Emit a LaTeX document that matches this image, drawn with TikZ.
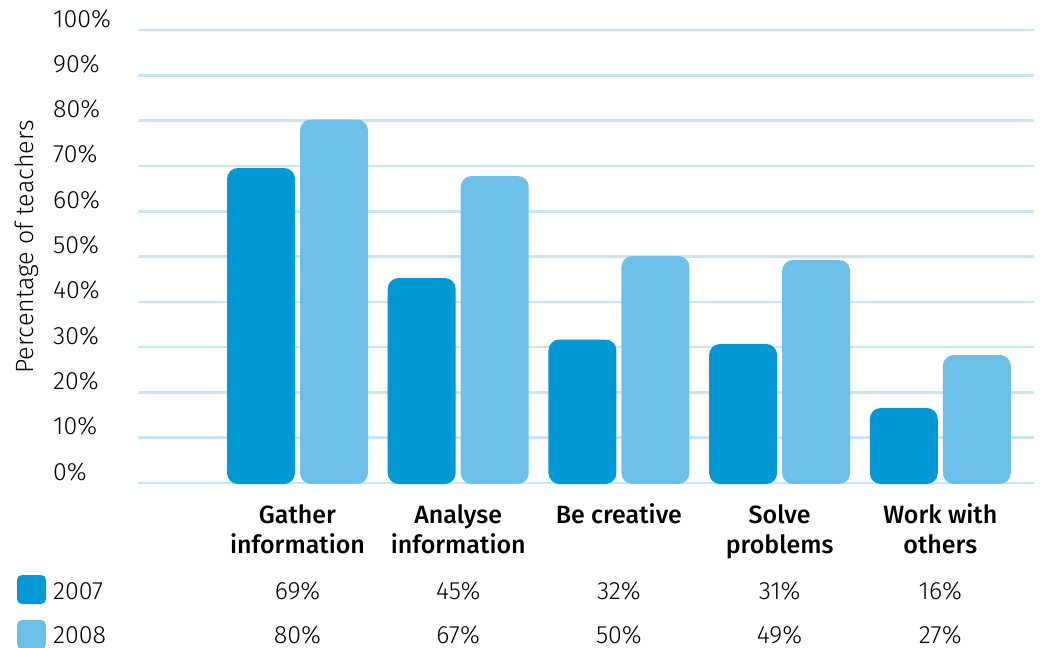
\documentclass[tikz,border=0pt]{standalone}
\usepackage{fontspec}
\setmainfont{Fira Sans}[UprightFont=* Light, BoldFont=* Medium]
\definecolor{darkbar}{HTML}{0099D6}
\definecolor{lightbar}{HTML}{6DC0E8}
\definecolor{gridc}{HTML}{C8E4F6}
\begin{document}
\begin{tikzpicture}[x=1pt,y=-1pt,
  gridline/.style={draw=gridc,line width=2.6pt},
  bardark/.style={fill=darkbar,rounded corners=11pt},
  barlight/.style={fill=lightbar,rounded corners=11pt},
  ylab/.style={anchor=base west,font=\fontsize{25}{25}\selectfont,inner sep=0pt},
  catlab/.style={anchor=base,align=center,font=\fontsize{25}{30}\selectfont\bfseries,inner sep=0pt},
  vallab/.style={anchor=base,font=\fontsize{25}{25}\selectfont,inner sep=0pt}]
\useasboundingbox (0,0) rectangle (1042,648);
% grid
\foreach \k in {0,...,10}{
  \draw[gridline] (138,{483-\k*45.3}) -- (1034,{483-\k*45.3});
  \pgfmathtruncatemacro{\pc}{\k*10}
  \node[ylab] (y\k) at (53,{480-\k*45.3}) {\pc\%};
}
\node[rotate=90,anchor=center,font=\fontsize{25}{25}\selectfont] (ytitle) at (27,247) {Percentage of teachers};
% bars
\foreach \i/\a/\b/\ta/\tb/\ly/\lab in {0/69/80/168/119.5/553/{Gather\\information},1/45/67/278/176/553/{Analyse\\information},2/32/50/339.5/256/523/{Be creative},3/31/49/344/260/553/{Solve\\problems},4/16/27/408/355/553/{Work with\\others}}{
  \pgfmathsetmacro{\xo}{227+\i*160.7}
  \fill[bardark] (\xo,484) rectangle ({\xo+68},\ta);
  \fill[barlight] ({\xo+73},484) rectangle ({\xo+141},\tb);
  \node[catlab] (c\i) at ({\xo+70.5},\ly) {\lab};
  \node[vallab] (va\i) at ({\xo+70.5},599) {\a\%};
  \node[vallab] (vb\i) at ({\xo+70.5},643) {\b\%};
}
% legend
\fill[darkbar,rounded corners=5pt] (17,575) rectangle (46,604);
\fill[lightbar,rounded corners=5pt] (17,620) rectangle (46,649);
\node[vallab,anchor=base west] (l1) at (53,599) {2007};
\node[vallab,anchor=base west] (l2) at (53,643) {2008};
\end{tikzpicture}
\end{document}
